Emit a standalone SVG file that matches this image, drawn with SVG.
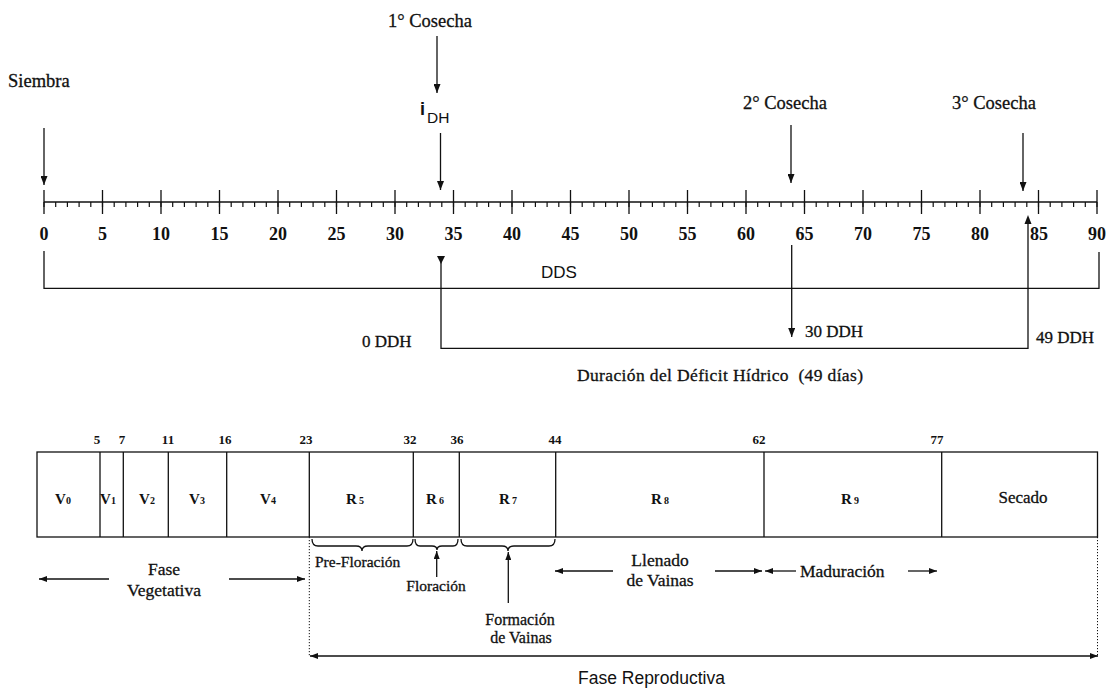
<svg xmlns="http://www.w3.org/2000/svg" width="1114" height="688" viewBox="0 0 1114 688">
<defs>
<style>
.s{font-family:"Liberation Serif","Times New Roman",serif;fill:#111;stroke:#111;stroke-width:0.3}
.a{font-family:"Liberation Sans",Arial,sans-serif;fill:#111}
.b{font-weight:bold}
.ln{stroke:#111;stroke-width:1.3;fill:none}
.dot{stroke:#111;stroke-width:1;fill:none;stroke-dasharray:1.2 1.8}
.num{font-family:"Liberation Serif","Times New Roman",serif;font-weight:bold;font-size:18px;fill:#111;text-anchor:middle}
.sm{font-family:"Liberation Serif","Times New Roman",serif;font-weight:bold;font-size:13px;fill:#111;text-anchor:middle}
.lab{font-family:"Liberation Serif","Times New Roman",serif;font-weight:bold;font-size:15px;fill:#111;text-anchor:middle}
.mid{text-anchor:middle}
</style>
<marker id="ah" viewBox="0 0 9 7" refX="9" refY="3.5" markerWidth="9" markerHeight="7" orient="auto" markerUnits="userSpaceOnUse"><path d="M0,0 L9,3.5 L0,7 z" fill="#111"/></marker>
<marker id="as" viewBox="0 0 8 6" refX="8" refY="3" markerWidth="8" markerHeight="6" orient="auto" markerUnits="userSpaceOnUse"><path d="M0,0 L8,3 L0,6 z" fill="#111"/></marker>
<marker id="asr" viewBox="0 0 8 6" refX="8" refY="3" markerWidth="8" markerHeight="6" orient="auto-start-reverse" markerUnits="userSpaceOnUse"><path d="M0,0 L8,3 L0,6 z" fill="#111"/></marker>
</defs>
<rect width="1114" height="688" fill="#fff"/>

<g id="axis">
<line class="ln" x1="44" y1="202" x2="1097" y2="202"/>
<line x1="43.4" y1="204.5" x2="1098" y2="204.5" stroke="#111" stroke-width="5" stroke-dasharray="1.2 10.5"/>
<path class="ln" d="M44,190V214M102.5,190V214M161,190V214M219.5,190V214M278,190V214M336.5,190V214M395,190V214M453.5,190V214M512,190V214M570.5,190V214M629,190V214M687.5,190V214M746,190V214M804.5,190V214M863,190V214M921.5,190V214M980,190V214M1038.5,190V214M1097,190V214"/>
<text class="num" x="44" y="240">0</text>
<text class="num" x="102.5" y="240">5</text>
<text class="num" x="161" y="240">10</text>
<text class="num" x="219.5" y="240">15</text>
<text class="num" x="278" y="240">20</text>
<text class="num" x="336.5" y="240">25</text>
<text class="num" x="395" y="240">30</text>
<text class="num" x="453.5" y="240">35</text>
<text class="num" x="512" y="240">40</text>
<text class="num" x="570.5" y="240">45</text>
<text class="num" x="629" y="240">50</text>
<text class="num" x="687.5" y="240">55</text>
<text class="num" x="746" y="240">60</text>
<text class="num" x="804.5" y="240">65</text>
<text class="num" x="863" y="240">70</text>
<text class="num" x="921.5" y="240">75</text>
<text class="num" x="980" y="240">80</text>
<text class="num" x="1039" y="240">85</text>
<text class="num" x="1097" y="240">90</text>
</g>

<g id="siembra"><text class="s" x="8" y="87" font-size="18.5">Siembra</text></g>
<g id="cosecha1"><text class="s" x="388" y="27" font-size="18.5">1° Cosecha</text></g>
<g id="idh"><text class="a b" x="420" y="115" font-size="18">i</text><text class="a" x="427" y="123" font-size="15.5">DH</text></g>
<g id="cosecha2"><text class="s" x="743" y="109" font-size="18.5">2° Cosecha</text></g>
<g id="cosecha3"><text class="s" x="952" y="109" font-size="18.5">3° Cosecha</text></g>
<g id="dds"><text class="a" x="541" y="278" font-size="17">DDS</text></g>
<g id="ddh0"><text class="s" x="362" y="347" font-size="17">0 DDH</text></g>
<g id="ddh30"><text class="s" x="805" y="337" font-size="17">30 DDH</text></g>
<g id="ddh49"><text class="s" x="1036" y="343" font-size="17">49 DDH</text></g>
<g id="duracion"><text class="s" x="577" y="381" font-size="17.5" xml:space="preserve" textLength="286" lengthAdjust="spacing">Duración del Déficit Hídrico  (49 días)</text></g>

<g id="stages">
<rect class="ln" x="37" y="452" width="1060.5" height="85"/>
<path class="ln" d="M100,452V537M123.3,452V537M168.3,452V537M226.7,452V537M309.3,452V537M413.3,452V537M459.3,452V537M555.7,452V537M764,452V537M941.7,452V537"/>
<text class="sm" x="97" y="444">5</text>
<text class="sm" x="122" y="444">7</text>
<text class="sm" x="168" y="444">11</text>
<text class="sm" x="225" y="444">16</text>
<text class="sm" x="306" y="444">23</text>
<text class="sm" x="410" y="444">32</text>
<text class="sm" x="457" y="444">36</text>
<text class="sm" x="555" y="444">44</text>
<text class="sm" x="759" y="444">62</text>
<text class="sm" x="937" y="444">77</text>
</g>
<g id="v0"><text class="lab" x="63" y="504">V<tspan font-size="10">0</tspan></text></g>
<g id="v1"><text class="lab" x="108" y="504">V<tspan font-size="10">1</tspan></text></g>
<g id="v2"><text class="lab" x="147" y="504">V<tspan font-size="10">2</tspan></text></g>
<g id="v3"><text class="lab" x="197" y="504">V<tspan font-size="10">3</tspan></text></g>
<g id="v4"><text class="lab" x="268" y="504">V<tspan font-size="10">4</tspan></text></g>
<g id="r5"><text class="lab" x="355" y="504">R<tspan font-size="10" dx="2">5</tspan></text></g>
<g id="r6"><text class="lab" x="435" y="504">R<tspan font-size="10" dx="2">6</tspan></text></g>
<g id="r7"><text class="lab" x="508" y="504">R<tspan font-size="10" dx="2">7</tspan></text></g>
<g id="r8"><text class="lab" x="660" y="504">R<tspan font-size="10" dx="2">8</tspan></text></g>
<g id="r9"><text class="lab" x="850" y="504">R<tspan font-size="10" dx="2">9</tspan></text></g>
<g id="secado"><text class="s mid" x="1023" y="503" font-size="17">Secado</text></g>

<g id="prefloracion"><text class="s" x="315" y="567" font-size="15.5">Pre-Floración</text></g>
<g id="floracion"><text class="s mid" x="436" y="591" font-size="15.5">Floración</text></g>
<g id="formacion"><text class="s mid" x="520" y="625" font-size="16">Formación</text><text class="s mid" x="521" y="643" font-size="16">de Vainas</text></g>
<g id="vegetativa"><text class="s mid" x="164" y="575" font-size="17.5">Fase</text><text class="s mid" x="164" y="596" font-size="17.5">Vegetativa</text></g>
<g id="llenado"><text class="s mid" x="660" y="566" font-size="17.5">Llenado</text><text class="s mid" x="660" y="586" font-size="17.5">de Vainas</text></g>
<g id="maduracion"><text class="s" x="800" y="577" font-size="17.5">Maduración</text></g>
<g id="reproductiva"><text class="a" x="578" y="684" font-size="17.5">Fase Reproductiva</text></g>

<g id="connectors">
<line class="ln" x1="44" y1="128" x2="44" y2="185" marker-end="url(#ah)"/>
<line class="ln" x1="437" y1="36" x2="437" y2="93" marker-end="url(#ah)"/>
<line class="ln" x1="440.5" y1="133" x2="440.5" y2="190" marker-end="url(#ah)"/>
<line class="ln" x1="791" y1="125" x2="791" y2="183" marker-end="url(#ah)"/>
<line class="ln" x1="1023" y1="133" x2="1023" y2="191" marker-end="url(#ah)"/>
<path class="ln" d="M44,251V288.3H1099V252"/>
<path class="ln" d="M441,256V348.3H1028V222"/>
<path d="M437,256L445,256L441,264z" fill="#111"/>
<path d="M1024.5,224L1031.5,224L1028,215z" fill="#111"/>
<line class="ln" x1="791.7" y1="245" x2="791.7" y2="337" marker-end="url(#ah)"/>
<path class="ln" d="M312,539Q312,546 318,546L356,546Q362,546 362,551Q362,546 368,546L407,546Q413,546 413,539"/>
<path class="ln" d="M415,539Q415,546 420,546L432,546Q437,546 437,550Q437,546 442,546L453,546Q458,546 458,539"/>
<path class="ln" d="M461,539Q461,546 467,546L502,546Q508,546 508,551Q508,546 514,546L549,546Q555,546 555,539"/>
<line class="ln" x1="436.7" y1="577" x2="436.7" y2="551" marker-end="url(#as)"/>
<line class="ln" x1="508.3" y1="603" x2="508.3" y2="552" marker-end="url(#as)"/>
<line class="ln" x1="109" y1="579" x2="39" y2="579" marker-end="url(#as)"/>
<line class="ln" x1="229" y1="579" x2="305" y2="579" marker-end="url(#as)"/>
<line class="ln" x1="613" y1="571" x2="555" y2="571" marker-end="url(#as)"/>
<line class="ln" x1="715" y1="571" x2="762" y2="571" marker-end="url(#as)"/>
<line class="ln" x1="796" y1="571" x2="765" y2="571" marker-end="url(#as)"/>
<line class="ln" x1="908" y1="571" x2="937" y2="571" marker-end="url(#as)"/>
<line class="dot" x1="309.3" y1="537" x2="309.3" y2="656"/>
<line class="dot" x1="1097.5" y1="537" x2="1097.5" y2="656"/>
<line class="ln" x1="310" y1="656" x2="1098" y2="656" marker-start="url(#asr)" marker-end="url(#asr)"/>
</g>
</svg>
